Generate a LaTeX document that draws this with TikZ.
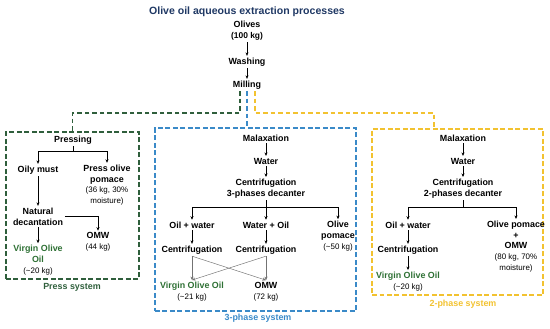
\documentclass[tikz,border=0pt]{standalone}
\usepackage{fontspec}
\setmainfont{Liberation Sans}
\usepackage{xcolor}
\usepackage{tikz}
\usetikzlibrary{positioning, arrows.meta, fit}
\definecolor{TitleBlue}{HTML}{1F3864}
\definecolor{PressGreen}{HTML}{2F5F3C}
\definecolor{OilGreen}{HTML}{2E7034}
\definecolor{PhaseBlue}{HTML}{3A8AC8}
\definecolor{PhaseGold}{HTML}{F2C230}
\newcommand{\kg}[1]{{\mdseries\fontsize{6.8}{8.5}\selectfont #1}}
\newcommand{\voo}[1]{{\color{OilGreen}#1}}

\begin{document}
\begin{tikzpicture}[
  x=0.03cm, y=-0.03cm,
  font=\bfseries\fontsize{7.6}{9.2}\selectfont,
  every node/.style={align=center, inner sep=1.5pt, anchor=center},
  arr/.style={-{Stealth[length=3pt, width=2.6pt]}, line width=0.5pt},
  cross/.style={arr, draw=black!55, line width=0.4pt},
  sysbox/.style={dashed, dash pattern=on 4pt off 2.4pt, line width=1pt, inner sep=0pt},
  link/.style={sysbox}
]
\useasboundingbox (0,0) rectangle (550,328);

\node[text=TitleBlue, font=\bfseries\fontsize{9}{11}\selectfont] (title) at (247,12) {Olive oil aqueous extraction processes};
\node (olives) at (247,30.5) {Olives\\{\fontsize{7.2}{9}\selectfont(100 kg)}};
\node (washing) at (247,62) {Washing};
\node (milling) at (247,85) {Milling};
\draw[arr] (olives) -- (washing);
\draw[arr] (washing) -- (milling);

% system boxes
\coordinate (pTL) at (6,132);   \coordinate (pBR) at (139,279);
\coordinate (tTL) at (155,128); \coordinate (tBR) at (356,311);
\coordinate (wTL) at (372,129); \coordinate (wBR) at (543,295);
\node[sysbox, draw=PressGreen, fit=(pTL)(pBR)] (press) {};
\node[sysbox, draw=PhaseBlue, fit=(tTL)(tBR)] (three) {};
\node[sysbox, draw=PhaseGold, fit=(wTL)(wBR)] (two) {};
\node[text=PressGreen] (presslbl) at (72,287.5) {Press system};
\node[text=PhaseBlue] (threelbl) at (258,318.5) {3-phase system};
\node[text=PhaseGold] (twolbl) at (463,304) {2-phase system};

\coordinate (gturn) at (240,113);
\coordinate (yturn) at (255,113);
\coordinate (ydrop) at (434,113);
\draw[link, draw=PressGreen] (milling.south -| gturn) -- (gturn) -| (press.north);
\draw[link, draw=PhaseBlue] (milling.south) -- (milling.south |- three.north);
\draw[link, draw=PhaseGold] (milling.south -| yturn) -- (yturn) -- (ydrop) -- (ydrop |- two.north);

% press system
\node (pressing) at (73,140) {Pressing};
\node (oily) at (38,170) {Oily must};
\node (ppomace) at (107,185) {Press olive\\pomace\\\kg{(36 kg, 30\%}\\\kg{moisture)}};
\node (natdec) at (38,216.5) {Natural\\decantation};
\node (omw1) at (98,242) {OMW\\\kg{(44 kg)}};
\node (voo1) at (38,260) {\voo{Virgin Olive}\\\voo{Oil}\\\kg{(\textasciitilde20 kg)}};
\coordinate (pbr) at (73,151);
\draw (pressing) -- (pbr);
\draw[arr] (pbr) -| (oily);
\draw[arr] (pbr) -| (ppomace);
\draw[arr] (oily) -- (natdec);
\draw[arr] (natdec.east) -| (omw1);
\draw[arr] (natdec) -- (voo1);

% 3-phase system
\node (mal3) at (266,138) {Malaxation};
\node (water3) at (266,161) {Water};
\node (cent3) at (266,188.5) {Centrifugation\\3-phases decanter};
\node (ow3) at (192,225) {Oil + water};
\node (wo3) at (266,225) {Water + Oil};
\node (pom3) at (338,236) {Olive\\pomace\\\kg{(\textasciitilde50 kg)}};
\node (cf3a) at (192,250) {Centrifugation};
\node (cf3b) at (266,250) {Centrifugation};
\node (voo3) at (192,291.5) {\voo{Virgin Olive Oil}\\\kg{(\textasciitilde21 kg)}};
\node (omw3) at (266,291.5) {OMW\\\kg{(72 kg)}};
\coordinate (br3) at (266,207);
\draw[arr] (mal3) -- (water3);
\draw[arr] (water3) -- (cent3);
\draw (cent3) -- (br3);
\draw[arr] (br3) -| (ow3);
\draw[arr] (br3) -- (wo3);
\draw[arr] (br3) -| (pom3);
\draw[arr] (ow3) -- (cf3a);
\draw[arr] (wo3) -- (cf3b);
\draw[cross] (cf3a.south) -- (voo3.north);
\draw[cross] (cf3a.south) -- (omw3.north);
\draw[cross] (cf3b.south) -- (omw3.north);
\draw[cross] (cf3b.south) -- (voo3.north);

% 2-phase system
\node (mal2) at (463,138) {Malaxation};
\node (water2) at (463,161) {Water};
\node (cent2) at (463,188.5) {Centrifugation\\2-phases decanter};
\node (ow2) at (408,225) {Oil + water};
\node (pom2) at (516,246.5) {Olive pomace\\+\\OMW\\\kg{(80 kg, 70\%}\\\kg{moisture)}};
\node (cf2) at (408,250) {Centrifugation};
\node (voo2) at (408,281.5) {\voo{Virgin Olive Oil}\\\kg{(\textasciitilde20 kg)}};
\coordinate (br2) at (463,207);
\draw[arr] (mal2) -- (water2);
\draw[arr] (water2) -- (cent2);
\draw (cent2) -- (br2);
\draw[arr] (br2) -| (ow2);
\draw[arr] (br2) -| (pom2);
\draw[arr] (ow2) -- (cf2);
\draw[arr] (cf2) -- (voo2);
\end{tikzpicture}
\end{document}
